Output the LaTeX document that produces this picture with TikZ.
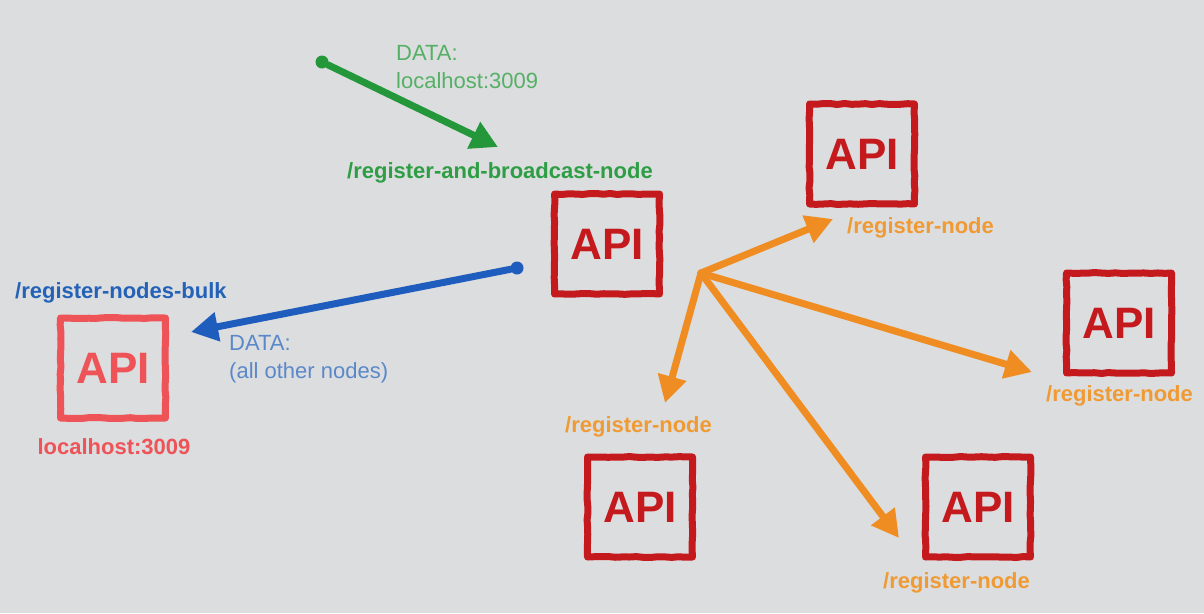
\documentclass[tikz,border=0pt]{standalone}
\usepackage{fontspec}
\setmainfont{Liberation Sans}
\usetikzlibrary{arrows.meta,decorations.pathmorphing}
\definecolor{bggray}{HTML}{DCDDDF}
\definecolor{apired}{HTML}{C41A1E}
\definecolor{apipink}{HTML}{EE5358}
\definecolor{arrgreen}{HTML}{23973A}
\definecolor{lblgreen}{HTML}{2E9E45}
\definecolor{txtgreen}{HTML}{55B065}
\definecolor{arrblue}{HTML}{1E5DBE}
\definecolor{lblblue}{HTML}{2462B8}
\definecolor{txtblue}{HTML}{5A88C8}
\definecolor{arrorange}{HTML}{EF8D22}
\definecolor{lblorange}{HTML}{F09A34}

\begin{document}
\begin{tikzpicture}[x=1pt,y=-1pt,
  api/.style={draw=#1, text=#1, line width=7pt, line join=round,
    minimum width=105pt, minimum height=100pt, inner sep=0pt,
    font=\fontsize{44}{44}\selectfont\bfseries,
    decorate, decoration={random steps,segment length=7pt,amplitude=0.5pt}},
  api/.default=apired,
  lbl/.style={font=\fontsize{22}{28}\selectfont\bfseries, inner sep=0pt},
  txt/.style={font=\fontsize{22}{28}\selectfont, inner sep=0pt, align=left},
  dot/.style={circle, fill=#1, inner sep=0pt, minimum size=13pt},
  link/.style={#1, line width=7pt, line cap=round,
    -{Triangle[length=27pt,width=28pt]}},
]
\pgfmathsetseed{7}
\fill[bggray] (0,0) rectangle (1204,613);
%\draw[help lines,step=50] (0,0) grid (1204,613);

% servers
\node[api] (mainapi) at (607,244) {API};
\node[api=apipink] (leftapi) at (113,368) {API};
\node[api] (topapi) at (862,154) {API};
\node[api] (rightapi) at (1119,323) {API};
\node[api] (lowlapi) at (640,507) {API};
\node[api] (lowrapi) at (978,507) {API};

% green: new node registers
\node[dot=arrgreen] (gdot) at (322,62) {};
\coordinate (gtip) at (498,147);
\draw[link=arrgreen] (gdot) -- (gtip);
\node[txt, text=txtgreen, anchor=north west] (gdata) at (396,45) {DATA:\\localhost:3009};
\node[lbl, text=lblgreen, anchor=base] (bcast) at (500,178) {/register-and-broadcast-node};

% blue: bulk back to new node
\node[dot=arrblue] (bdot) at (517,268) {};
\coordinate (btip) at (191,332);
\draw[link=arrblue] (bdot) -- (btip);
\node[lbl, text=lblblue, anchor=base west] (bulk) at (15,298) {/register-nodes-bulk};
\node[txt, text=txtblue, anchor=north west] (bdata) at (229,335) {DATA:\\(all other nodes)};
\node[lbl, text=apipink, anchor=base] (host) at (114,454) {localhost:3009};

% orange: broadcast to the network
\coordinate (hub) at (701,273);
\coordinate (otop) at (833,219);
\coordinate (oright) at (1032,372);
\coordinate (olowl) at (665,403);
\coordinate (olowr) at (899,538);
\foreach \t in {otop,oright,olowl,olowr}
  \draw[link=arrorange] (hub) -- (\t);
\node[lbl, text=lblorange, anchor=base west] (regtop) at (847,233) {/register-node};
\node[lbl, text=lblorange, anchor=base west] (regright) at (1046,401) {/register-node};
\node[lbl, text=lblorange, anchor=base west] (reglowl) at (565,432) {/register-node};
\node[lbl, text=lblorange, anchor=base west] (reglowr) at (883,588) {/register-node};
\end{tikzpicture}
\end{document}
